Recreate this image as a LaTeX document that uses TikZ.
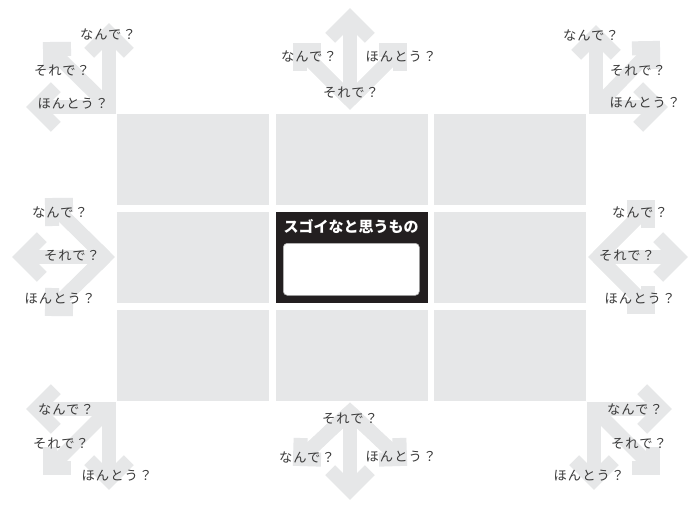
\documentclass[tikz,border=0pt]{standalone}
\usepackage{fontspec}
\usetikzlibrary{calc}
\newfontfamily\jp[LetterSpace=8]{Noto Sans CJK JP}
\newfontfamily\jptitle{Noto Sans CJK JP}
\definecolor{agray}{HTML}{E6E7E8}
\definecolor{cellgray}{HTML}{E6E7E8}
\definecolor{dark}{HTML}{231F20}
\definecolor{txt}{HTML}{3A3A3A}
\tikzset{
  shaft/.style={draw=agray, line width=14pt, line join=miter, line cap=butt},
  cell/.style={fill=cellgray, draw=none},
  lbl/.style={text=txt, font=\jp\fontsize{13.3}{13.3}\selectfont, inner sep=0pt},
}
% #1 origin, #2 head vertex, #3 arm length
\newcommand\myarrow[3]{%
  \draw[shaft] (#1) -- (#2);
  \draw[shaft] ($(#2)!#3pt!45:(#1)$) -- (#2) -- ($(#2)!#3pt!-45:(#1)$);
}
\def\ax{28}
\def\dg{21}
\begin{document}
\begin{tikzpicture}[x=1pt,y=-1pt]
\useasboundingbox (0,0) rectangle (690,506);
\fill[white] (0,0) rectangle (690,506);

% ---- grid cells
\foreach \cx/\cy [count=\i] in {117/114,276/114,434/114,117/212,434/212,117/310,276/310,434/310}{
  \fill[cell] (\cx,\cy) rectangle ++(152,91);
}
\node[fill=dark, minimum width=152pt, minimum height=91pt, inner sep=0pt, anchor=north west] (center) at (276,212) {};
\node[fill=white, draw=gray!60, line width=0.6pt, rounded corners=4pt, minimum width=136pt, minimum height=52pt, inner sep=0pt, anchor=north west] (box) at (283,243) {};
\node[text=white, font=\jptitle\bfseries\fontsize{15}{15}\selectfont, inner sep=0pt] (title) at (351,227) {スゴイなと思うもの};

% ---- top-left
\coordinate (tlC) at (109,107); \coordinate (tlH) at (36,107);
\coordinate (tlV) at (109,33); \coordinate (tlD) at (50,49);
\draw[shaft] (tlH) -- (tlC) -- (tlV);
\myarrow{tlC}{tlH}{\ax}\myarrow{tlC}{tlV}{\ax}\myarrow{tlC}{tlD}{\dg}

% ---- top-middle
\coordinate (tmO) at (350,100); \coordinate (tmV) at (350,18);
\coordinate (tmL) at (300,50); \coordinate (tmR) at (400,50);
\draw[shaft] (tmL) -- (tmO) -- (tmR);
\myarrow{tmO}{tmV}{\ax}\myarrow{tmO}{tmL}{\dg}\myarrow{tmO}{tmR}{\dg}

% ---- top-right
\coordinate (trC) at (596,107); \coordinate (trH) at (658,107);
\coordinate (trV) at (596,35); \coordinate (trD) at (653,48);
\draw[shaft] (trH) -- (trC) -- (trV);
\myarrow{trC}{trH}{\ax}\myarrow{trC}{trV}{\ax}\myarrow{trC}{trD}{\dg}

% ---- left-middle
\coordinate (lmO) at (105,257); \coordinate (lmH) at (22,257);
\coordinate (lmU) at (52,205); \coordinate (lmD) at (52,309);
\draw[shaft] (lmU) -- (lmO) -- (lmD);
\myarrow{lmO}{lmH}{\ax}\myarrow{lmO}{lmU}{\dg}\myarrow{lmO}{lmD}{\dg}

% ---- right-middle
\coordinate (rmO) at (598,257); \coordinate (rmH) at (678,257);
\coordinate (rmU) at (648,207); \coordinate (rmD) at (648,307);
\draw[shaft] (rmU) -- (rmO) -- (rmD);
\myarrow{rmO}{rmH}{\ax}\myarrow{rmO}{rmU}{\dg}\myarrow{rmO}{rmD}{\dg}

% ---- bottom-left
\coordinate (blC) at (109,409); \coordinate (blH) at (36,409);
\coordinate (blV) at (109,480); \coordinate (blD) at (50,468);
\draw[shaft] (blH) -- (blC) -- (blV);
\myarrow{blC}{blH}{\ax}\myarrow{blC}{blV}{\ax}\myarrow{blC}{blD}{\dg}

% ---- bottom-middle
\coordinate (bmO) at (350,412); \coordinate (bmV) at (350,490);
\coordinate (bmL) at (300,459); \coordinate (bmR) at (400,459);
\draw[shaft] (bmL) -- (bmO) -- (bmR);
\myarrow{bmO}{bmV}{\ax}\myarrow{bmO}{bmL}{\dg}\myarrow{bmO}{bmR}{\dg}

% ---- bottom-right
\coordinate (brC) at (594,409); \coordinate (brH) at (662,409);
\coordinate (brV) at (594,480); \coordinate (brD) at (653,468);
\draw[shaft] (brH) -- (brC) -- (brV);
\myarrow{brC}{brH}{\ax}\myarrow{brC}{brV}{\ax}\myarrow{brC}{brD}{\dg}

% ---- labels
\node[lbl] (tl1) at (108,35) {なんで？};
\node[lbl] (tl2) at (62,71) {それで？};
\node[lbl] (tl3) at (73,104) {ほんとう？};
\node[lbl] (tm1) at (309,57) {なんで？};
\node[lbl] (tm2) at (401,57) {ほんとう？};
\node[lbl] (tm3) at (351,93) {それで？};
\node[lbl] (tr1) at (591,36) {なんで？};
\node[lbl] (tr2) at (638,71) {それで？};
\node[lbl] (tr3) at (645,103) {ほんとう？};
\node[lbl] (lm1) at (60,213) {なんで？};
\node[lbl] (lm2) at (72,256) {それで？};
\node[lbl] (lm3) at (60,299) {ほんとう？};
\node[lbl] (rm1) at (640,213) {なんで？};
\node[lbl] (rm2) at (627,256) {それで？};
\node[lbl] (rm3) at (640,299) {ほんとう？};
\node[lbl] (bl1) at (66,409) {なんで？};
\node[lbl] (bl2) at (61,444) {それで？};
\node[lbl] (bl3) at (117,476) {ほんとう？};
\node[lbl] (bm1) at (350,419) {それで？};
\node[lbl] (bm2) at (307,457) {なんで？};
\node[lbl] (bm3) at (401,457) {ほんとう？};
\node[lbl] (br1) at (635,409) {なんで？};
\node[lbl] (br2) at (639,444) {それで？};
\node[lbl] (br3) at (589,476) {ほんとう？};
\end{tikzpicture}
\end{document}
